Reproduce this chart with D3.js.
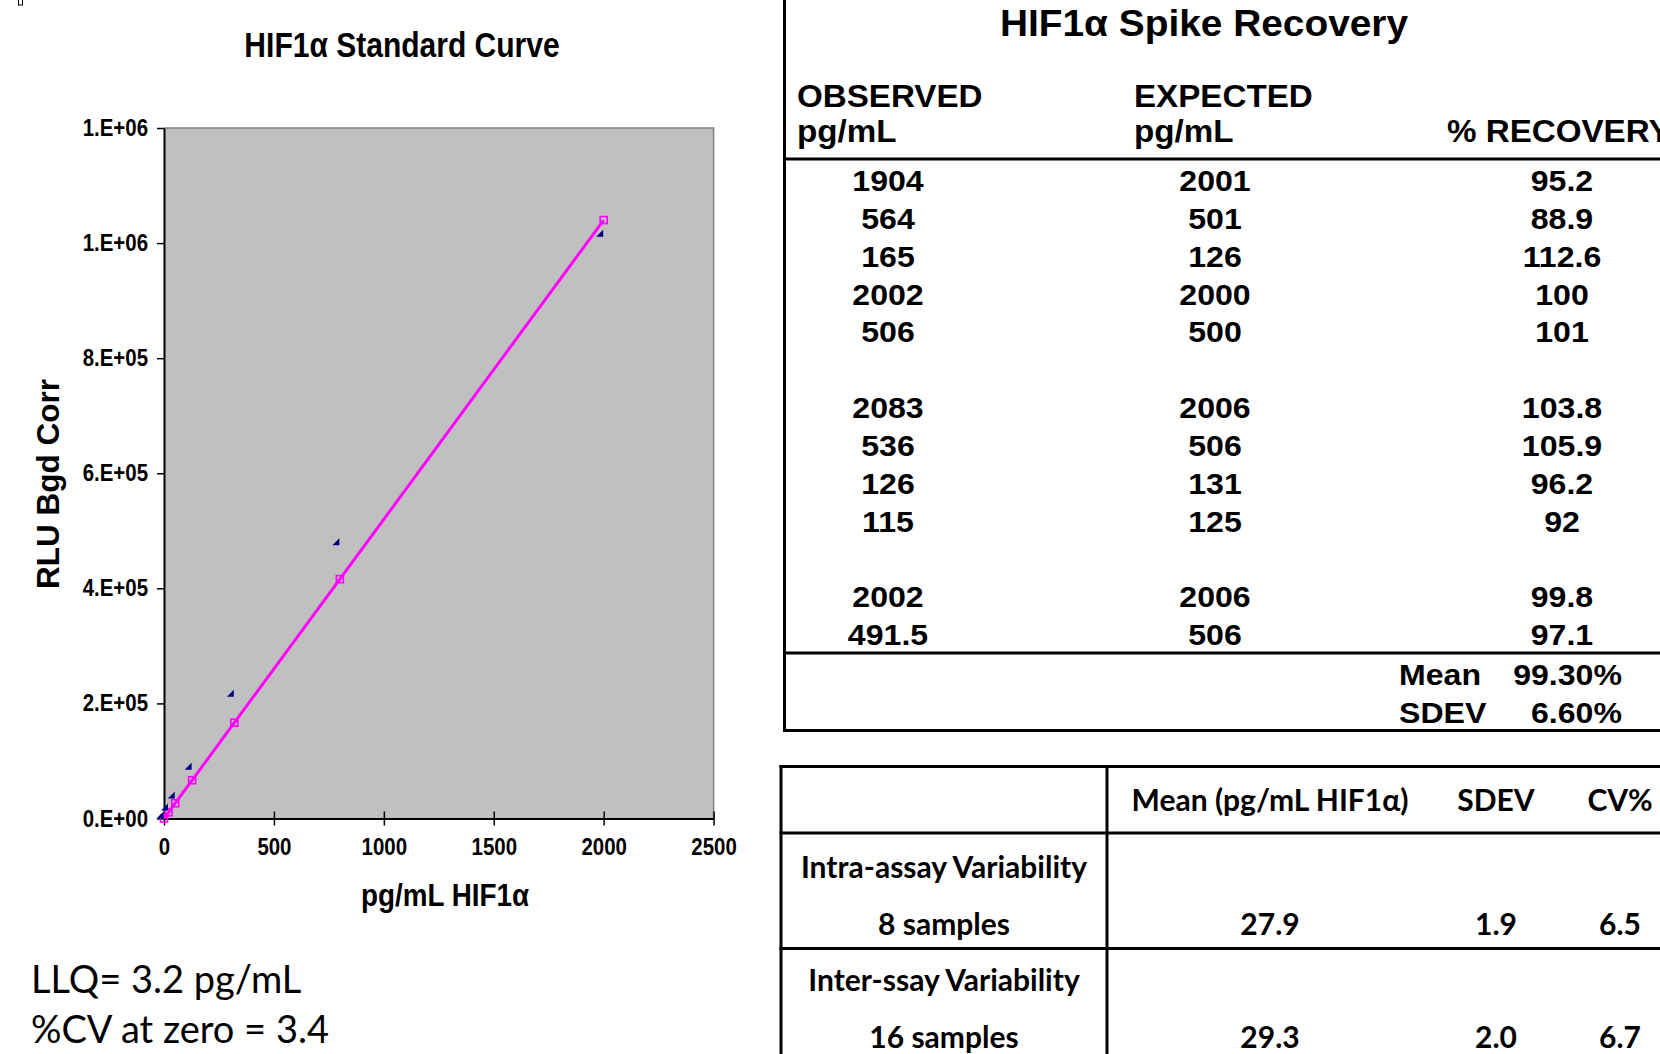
<!DOCTYPE html>
<html lang="en">
<head>
<meta charset="UTF-8">
<title>HIF1a Standard Curve</title>
<script src="https://d3js.org/d3.v7.min.js"></script>
<style>
  body { margin: 0; background: #fff; }
  svg { display: block; }
</style>
</head>
<body>
<svg width="1660" height="1054"></svg>
<script>
// standard curve: concentrations (pg/mL) and signal
var stdConc   = [2000, 800, 320, 128, 51.2, 20.5, 0];
var fitRLU    = [1040000, 416000, 166500, 66500, 26600, 10700, 0];
var measRLU   = [1017000, 481000, 217500, 91000, 41000, 20000, 6000];
var yTicks    = [0, 200000, 400000, 600000, 800000, 1000000, 1200000];
var xTicks    = [0, 500, 1000, 1500, 2000, 2500];

// spike recovery table (null = blank spacer row)
var observed  = [1904, 564, 165, 2002, 506, null, 2083, 536, 126, 115, null, 2002, 491.5];
var expected  = [2001, 501, 126, 2000, 500, null, 2006, 506, 131, 125, null, 2006, 506];
var recovery  = [95.2, 88.9, 112.6, 100, 101, null, 103.8, 105.9, 96.2, 92, null, 99.8, 97.1];
var summaryLabels = ["Mean", "SDEV"];
var summaryValues = ["99.30%", "6.60%"];

// variability table
var varHeaders = ["Mean (pg/mL HIF1\u03b1)", "SDEV", "CV%"];
var varRows    = ["Intra-assay Variability", "Inter-ssay Variability"];
var varCounts  = ["8 samples", "16 samples"];
var varMean    = ["27.9", "29.3"];
var varSdev    = ["1.9", "2.0"];
var varCv      = ["6.5", "6.7"];

var svg = d3.select("svg");
var arial = "'Liberation Sans', Arial, sans-serif";
var calibri = "Lato, 'Open Sans', sans-serif";

// tiny mark in the corner
svg.append("rect").attr("x", 18.5).attr("y", -1).attr("width", 4).attr("height", 6)
   .attr("fill", "none").attr("stroke", "#000").attr("stroke-width", 1);

// ---------- chart ----------
var x = d3.scaleLinear().domain([0, 2500]).range([164, 713.6]);
var y = d3.scaleLinear().domain([0, 1200000]).range([818.5, 128]);

svg.append("rect")
   .attr("x", x(0)).attr("y", y(1200000))
   .attr("width", x(2500) - x(0)).attr("height", y(0) - y(1200000))
   .attr("fill", "#c0c0c0");
svg.append("path")
   .attr("d", "M" + x(0) + "," + y(1200000) + "H" + x(2500) + "V" + y(0))
   .attr("fill", "none").attr("stroke", "#808080").attr("stroke-width", 1.5);

function excelE(d) {
  if (d === 0) return "0.E+00";
  var e = Math.floor(Math.log10(d));
  var m = Math.round(d / Math.pow(10, e));
  if (m === 10) { m = 1; e += 1; }
  return m + ".E+" + (e < 10 ? "0" + e : e);
}

// chart text in the picture is a bit narrow and tall
var narrow = 0.87;

var yAxis = svg.append("g")
   .attr("transform", "translate(" + x(0) + ",0)")
   .call(d3.axisLeft(y).tickValues(yTicks).tickFormat(excelE).tickSizeInner(7).tickSizeOuter(0).tickPadding(9));

var xAxis = svg.append("g")
   .attr("transform", "translate(0," + y(0) + ")")
   .call(d3.axisBottom(x).tickValues(xTicks).tickFormat(d3.format("d"))
         .tickSizeInner(7).tickSizeOuter(0).tickPadding(13));
xAxis.selectAll(".tick line").attr("y1", -7);

[yAxis, xAxis].forEach(function(a) {
  a.select(".domain").attr("stroke", "#000").attr("stroke-width", 2);
  a.selectAll(".tick line").attr("stroke", "#000").attr("stroke-width", 1.5);
  a.selectAll("text").attr("font-family", arial).attr("font-weight", "bold")
   .attr("font-size", 23.5).attr("fill", "#000")
   .attr("x", function() { return (+d3.select(this).attr("x") || 0) / narrow; })
   .attr("transform", "scale(" + narrow + ",1)");
});

// fitted line with square markers
var line = d3.line().x(function(d, i) { return x(stdConc[i]); }).y(function(d) { return y(d); });
svg.append("path").datum(fitRLU).attr("d", line)
   .attr("fill", "none").attr("stroke", "#ff00ff").attr("stroke-width", 3);
svg.selectAll(".sq").data(fitRLU).enter().append("rect")
   .attr("x", function(d, i) { return x(stdConc[i]) - 3.5; })
   .attr("y", function(d) { return y(d) - 3.5; })
   .attr("width", 7).attr("height", 7)
   .attr("fill", "none").attr("stroke", "#ff00ff").attr("stroke-width", 1.6);

// measured points: small navy right triangles
svg.selectAll(".tri").data(measRLU).enter().append("path")
   .attr("d", function(d, i) {
     var cx = x(stdConc[i]) - 4, cy = y(d);
     return "M" + (cx + 3.5) + "," + (cy - 3.5) + "L" + (cx + 3.5) + "," + (cy + 3.5) + "L" + (cx - 3.5) + "," + (cy + 3.5) + "Z";
   })
   .attr("fill", "#000080");

svg.append("text").attr("transform", "translate(402,57) scale(" + narrow + ",1)").attr("text-anchor", "middle")
   .attr("font-family", arial).attr("font-weight", "bold").attr("font-size", 34.5)
   .text("HIF1\u03b1 Standard Curve");
svg.append("text").attr("transform", "translate(445,906) scale(" + narrow + ",1)").attr("text-anchor", "middle")
   .attr("font-family", arial).attr("font-weight", "bold").attr("font-size", 32)
   .text("pg/mL HIF1\u03b1");
svg.append("text").attr("transform", "translate(59,484) rotate(-90)").attr("text-anchor", "middle")
   .attr("font-family", arial).attr("font-weight", "bold").attr("font-size", 31.5)
   .text("RLU Bgd Corr");

svg.append("text").attr("x", 31).attr("y", 993)
   .attr("font-family", calibri).attr("font-size", 38).text("LLQ= 3.2 pg/mL");
svg.append("text").attr("x", 31).attr("y", 1043)
   .attr("font-family", calibri).attr("font-size", 38).text("%CV at zero = 3.4");

// ---------- spike recovery table ----------
var t1 = svg.append("g");
var lineW = 3;
function hline(g, y0, x0, x1) {
  g.append("line").attr("x1", x0).attr("x2", x1).attr("y1", y0).attr("y2", y0)
   .attr("stroke", "#000").attr("stroke-width", lineW);
}
function vline(g, x0, y0, y1) {
  g.append("line").attr("x1", x0).attr("x2", x0).attr("y1", y0).attr("y2", y1)
   .attr("stroke", "#000").attr("stroke-width", lineW);
}
vline(t1, 784.5, 0, 731.5);
hline(t1, 159, 783, 1660);
hline(t1, 653, 783, 1660);
hline(t1, 730.5, 783, 1660);

// text helper; sx stretches glyphs horizontally like the pasted table
function tx(g, xp, yp, s, size, anchor, fam, weight, sx) {
  return g.append("text")
    .attr("transform", "translate(" + xp + "," + yp + ") scale(" + (sx || 1) + ",1)")
    .attr("text-anchor", anchor || "start")
    .attr("font-family", fam || arial).attr("font-weight", weight || "bold")
    .attr("font-size", size).text(s);
}
var stretch = 1.07;
tx(t1, 1204, 36, "HIF1\u03b1 Spike Recovery", 37, "middle", arial, "bold", 1.05);
tx(t1, 797, 107, "OBSERVED", 31, "start", arial, "bold", stretch);
tx(t1, 797, 142, "pg/mL", 31, "start", arial, "bold", stretch);
tx(t1, 1134, 107, "EXPECTED", 31, "start", arial, "bold", stretch);
tx(t1, 1134, 142, "pg/mL", 31, "start", arial, "bold", stretch);
tx(t1, 1447, 142, "% RECOVERY", 31, "start", arial, "bold", stretch);

var row = d3.scaleLinear().domain([0, 12]).range([191, 645]);
var cols = [[observed, 888], [expected, 1215], [recovery, 1562]];
cols.forEach(function(c) {
  c[0].forEach(function(v, i) {
    if (v === null) return;
    tx(t1, c[1], row(i), String(v), 30, "middle", arial, "bold", stretch);
  });
});
summaryLabels.forEach(function(s, i) {
  tx(t1, 1399, 685 + i * 38, s, 30, "start", arial, "bold", stretch);
  tx(t1, 1622, 685 + i * 38, summaryValues[i], 30, "end", arial, "bold", stretch);
});

// ---------- variability table ----------
var t2 = svg.append("g");
hline(t2, 766.5, 779.5, 1660);
hline(t2, 833, 779.5, 1660);
hline(t2, 948.5, 779.5, 1660);
vline(t2, 781, 765, 1054);
vline(t2, 1107, 765, 1054);

var vcols = [1270, 1496, 1620];
varHeaders.forEach(function(h, i) { tx(t2, vcols[i], 811, h, 30, "middle", calibri); });
varRows.forEach(function(r, i) {
  var base = 878 + i * 113;
  tx(t2, 944, base, r, 30, "middle", calibri);
  tx(t2, 944, base + 57, varCounts[i], 30, "middle", calibri);
  tx(t2, vcols[0], base + 57, varMean[i], 30, "middle", calibri);
  tx(t2, vcols[1], base + 57, varSdev[i], 30, "middle", calibri);
  tx(t2, vcols[2], base + 57, varCv[i], 30, "middle", calibri);
});
</script>
</body>
</html>
